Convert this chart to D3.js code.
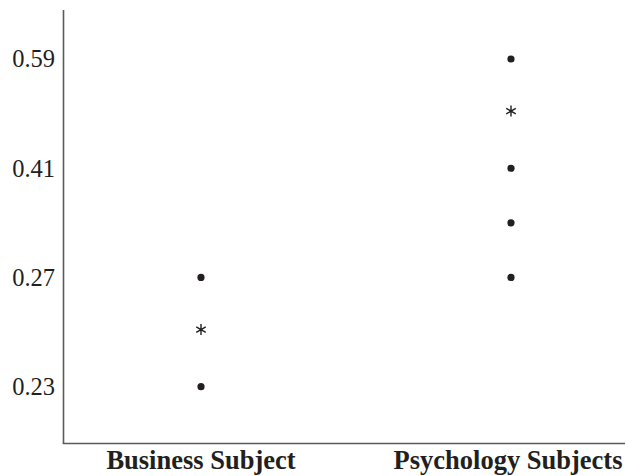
<!DOCTYPE html>
<html>
<head>
<meta charset="utf-8">
<script src="https://cdn.jsdelivr.net/npm/d3@7/dist/d3.min.js"></script>
<style>
  html, body { margin: 0; padding: 0; background: #fff; }
  svg { display: block; }
  text { font-family: "Liberation Serif", "Times New Roman", serif; fill: #231f20; }
</style>
</head>
<body>
<svg id="chart" width="625" height="476"></svg>
<script>
// Groups along the x axis
const groups = ["Business Subject", "Psychology Subjects"];

// Ordered value levels on the y axis (evenly spaced by rank)
const levels = [0.23, 0.25, 0.27, 0.34, 0.41, 0.50, 0.59];
// Levels that carry a tick label
const tickValues = [0.23, 0.27, 0.41, 0.59];

// Observed values per group (dots) and group medians (asterisks)
const businessValues = [0.27, 0.23];
const psychologyValues = [0.59, 0.41, 0.34, 0.27];
const medians = [0.25, 0.50];

const svg = d3.select("#chart");
const ink = "#231f20";
const axisColor = "#5a5a5a";

const x = d3.scalePoint()
  .domain(groups)
  .range([201, 511]);

const y = d3.scalePoint()
  .domain(levels)
  .range([386.7, 59]);

// Axis lines
svg.append("line")
  .attr("x1", 63.5).attr("x2", 63.5)
  .attr("y1", 10).attr("y2", 443.5)
  .attr("stroke", axisColor).attr("stroke-width", 1.6);
svg.append("line")
  .attr("x1", 62.7).attr("x2", 625)
  .attr("y1", 443.5).attr("y2", 443.5)
  .attr("stroke", axisColor).attr("stroke-width", 1.6);

// Y tick labels
svg.append("g").selectAll("text")
  .data(tickValues)
  .join("text")
  .attr("x", 55)
  .attr("y", d => y(d))
  .attr("dy", "0.34em")
  .attr("text-anchor", "end")
  .attr("font-size", 24.5)
  .text(d => d3.format(".2f")(d));

// Group labels (the long right-hand label is nudged to stay inside the frame)
svg.append("g").selectAll("text")
  .data(groups)
  .join("text")
  .attr("x", (d, i) => x(d) - (i === groups.length - 1 ? 3 : 0))
  .attr("y", 469)
  .attr("text-anchor", "middle")
  .attr("font-size", 26.5)
  .attr("font-weight", "bold")
  .text(d => d);

// Individual values
const points = [
  ...businessValues.map(v => ({ group: groups[0], value: v })),
  ...psychologyValues.map(v => ({ group: groups[1], value: v }))
];
svg.append("g").selectAll("circle")
  .data(points)
  .join("circle")
  .attr("cx", d => x(d.group))
  .attr("cy", d => y(d.value))
  .attr("r", 3.6)
  .attr("fill", ink);

// Medians
const asterisk = d3.symbol().type(d3.symbolAsterisk).size(85);
svg.append("g").selectAll("path")
  .data(medians.map((v, i) => ({ group: groups[i], value: v })))
  .join("path")
  .attr("transform", d => `translate(${x(d.group)},${y(d.value) - 2.5})`)
  .attr("d", asterisk)
  .attr("fill", "none")
  .attr("stroke", ink)
  .attr("stroke-width", 1.4);
</script>
</body>
</html>
